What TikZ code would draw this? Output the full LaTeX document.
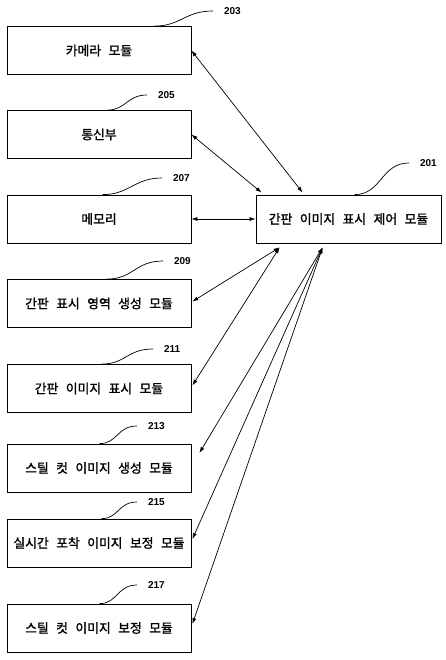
\documentclass[tikz,border=0pt]{standalone}
\usepackage{fontspec}
\newfontfamily\kr[WordSpace=2.6,FakeBold=1.5]{Noto Sans CJK KR}
\newfontfamily\refnumfont{Liberation Sans}
\usetikzlibrary{arrows.meta,calc}
\begin{document}
\begin{tikzpicture}[x=1pt,y=-1pt,
  box/.style={draw,line width=0.8pt,minimum width=184pt,minimum height=48pt,inner sep=0pt,font=\kr\fontsize{12.8}{14}\selectfont},
  refnum/.style={font=\refnumfont\bfseries\fontsize{10}{12}\selectfont,inner sep=0pt,outer xsep=11pt,anchor=west},
  leader/.style={line width=0.7pt},
  link/.style={line width=0.7pt,{Latex[length=6pt,width=4pt]}-{Latex[length=6pt,width=4pt]}}]
\useasboundingbox (0,0) rectangle (446,660);
% boxes
\node[box] (b203) at (99,50.5) {카메라 모듈};
\node[box] (b205) at (99,134.5) {통신부};
\node[box] (b207) at (99,219) {메모리};
\node[box,minimum width=185pt] (b201) at (348.5,219) {간판 이미지 표시 제어 모듈};
\node[box] (b209) at (99,303.5) {간판 표시 영역 생성 모듈};
\node[box] (b211) at (99,388.5) {간판 이미지 표시 모듈};
\node[box] (b213) at (99,468) {스틸 컷 이미지 생성 모듈};
\node[box] (b215) at (99,543) {실시간 포착 이미지 보정 모듈};
\node[box] (b217) at (99,628) {스틸 컷 이미지 보정 모듈};
% reference numbers
\node[refnum] (l203) at (213,11) {203};
\node[refnum] (l205) at (147,95) {205};
\node[refnum] (l207) at (162,178) {207};
\node[refnum] (l201) at (409,163) {201};
\node[refnum] (l209) at (163,261) {209};
\node[refnum] (l211) at (153,349) {211};
\node[refnum] (l213) at (137,426) {213};
\node[refnum] (l215) at (137,502) {215};
\node[refnum] (l217) at (137,585) {217};
% leaders
\draw[leader] ($(b203.north west)+(148,0)$) .. controls +(26,0) and +(-28,0) .. (l203.west);
\draw[leader] ($(b205.north west)+(101,0)$) .. controls +(18,0) and +(-20,0) .. (l205.west);
\draw[leader] ($(b207.north west)+(96,0)$) .. controls +(27,0) and +(-28,0) .. (l207.west);
\draw[leader] ($(b201.north west)+(99,0)$) .. controls +(27,0) and +(-28,0) .. (l201.west);
\draw[leader] ($(b209.north west)+(100,0)$) .. controls +(27,0) and +(-28,0) .. (l209.west);
\draw[leader] ($(b211.north west)+(95,0)$) .. controls +(24,0) and +(-26,0) .. (l211.west);
\draw[leader] ($(b213.north west)+(93,0)$) .. controls +(18,0) and +(-20,0) .. (l213.west);
\draw[leader] ($(b215.north west)+(95,0)$) .. controls +(17,0) and +(-19,0) .. (l215.west);
\draw[leader] ($(b217.north west)+(93,0)$) .. controls +(18,0) and +(-20,0) .. (l217.west);
% links
\draw[link] (b203.east) -- ($(b201.north west)+(47,-2)$);
\draw[link] (b205.east) -- ($(b201.north west)+(6,-2)$);
\draw[link] (b207.east) -- (b201.west);
\draw[link] ($(b209.east)+(1,-2)$) -- ($(b201.south west)+(24,4)$);
\draw[link] ($(b211.east)+(1,-3)$) -- ($(b201.south west)+(24,4)$);
\draw[link] ($(b213.east)+(8,-15)$) -- ($(b201.south west)+(67,4)$);
\draw[link] ($(b215.east)+(1,-4)$) -- ($(b201.south west)+(67,4)$);
\draw[link] ($(b217.east)+(1,-4)$) -- ($(b201.south west)+(67,4)$);
\end{tikzpicture}
\end{document}
